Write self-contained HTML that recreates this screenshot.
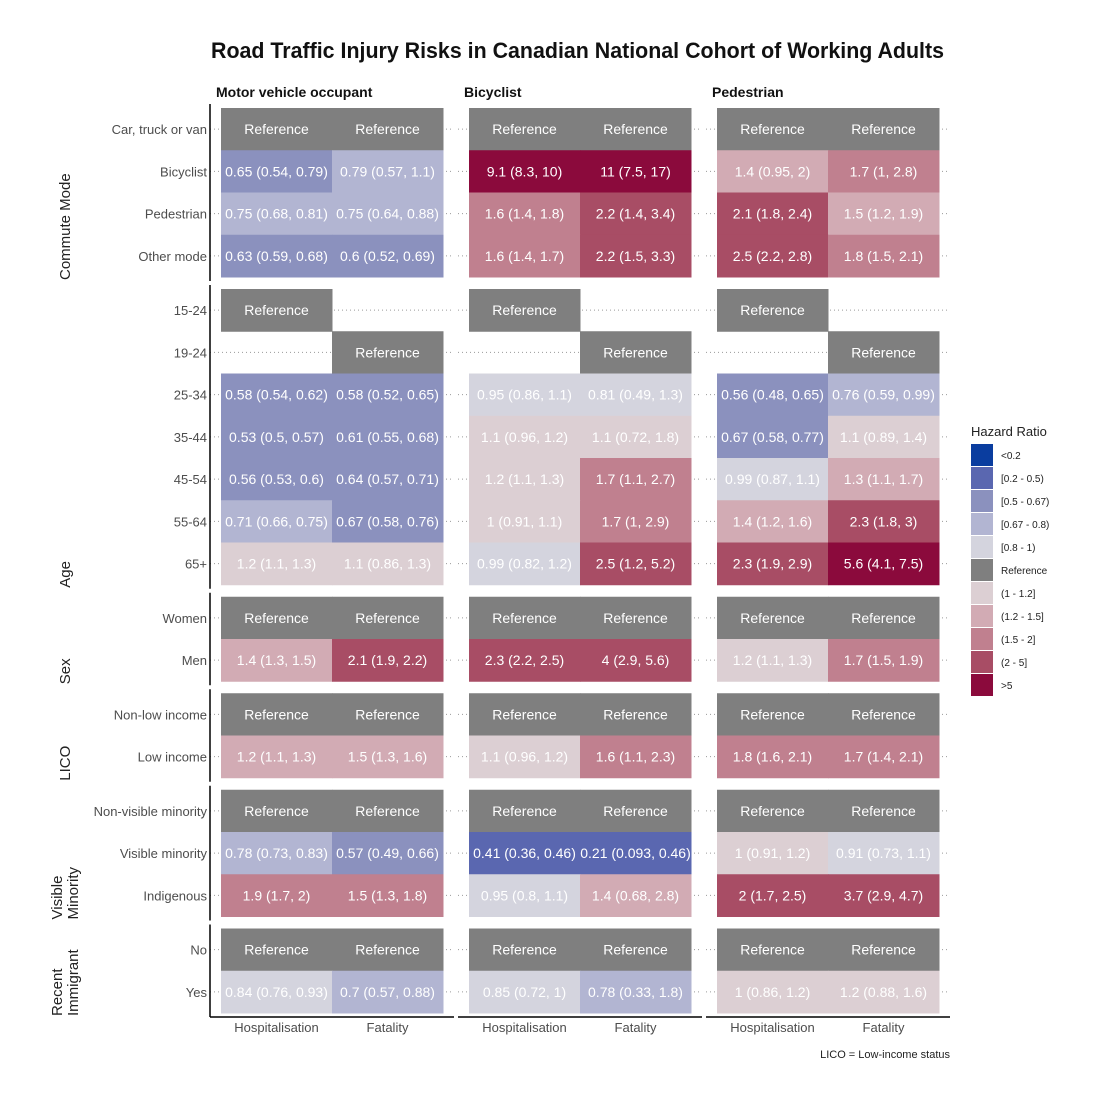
<!DOCTYPE html>
<html><head><meta charset="utf-8">
<style>
html,body{margin:0;padding:0;background:#fff;}
svg{display:block;font-family:"Liberation Sans",sans-serif;}
</style></head>
<body>
<svg id="chart" width="1100" height="1100" viewBox="0 0 1100 1100">
<text x="211" y="58" textLength="733" lengthAdjust="spacingAndGlyphs" font-size="22" font-weight="bold" fill="#111">Road Traffic Injury Risks in Canadian National Cohort of Working Adults</text>
<text x="216" y="97" font-size="14" font-weight="bold" fill="#111">Motor vehicle occupant</text>
<text x="464" y="97" font-size="14" font-weight="bold" fill="#111">Bicyclist</text>
<text x="712" y="97" font-size="14" font-weight="bold" fill="#111">Pedestrian</text>
<g id="grid"></g>
<g id="cells"></g>
<g id="axes"></g>
<g id="legend"></g>
<text x="950" y="1058" text-anchor="end" font-size="11" fill="#222">LICO = Low-income status</text>
</svg>
<script>
const facetNames = [["Commute Mode"],["Age"],["Sex"],["LICO"],["Visible","Minority"],["Recent","Immigrant"]];
const facetRows = [
  ["Car, truck or van","Bicyclist","Pedestrian","Other mode"],
  ["15-24","19-24","25-34","35-44","45-54","55-64","65+"],
  ["Women","Men"],
  ["Non-low income","Low income"],
  ["Non-visible minority","Visible minority","Indigenous"],
  ["No","Yes"]
];
const panels = ["Motor vehicle occupant","Bicyclist","Pedestrian"];
const outcomes = ["Hospitalisation","Fatality"];
const R = "Reference";
const labels = [
  [R,R,R,R,R,R],
  ["0.65 (0.54, 0.79)","0.79 (0.57, 1.1)","9.1 (8.3, 10)","11 (7.5, 17)","1.4 (0.95, 2)","1.7 (1, 2.8)"],
  ["0.75 (0.68, 0.81)","0.75 (0.64, 0.88)","1.6 (1.4, 1.8)","2.2 (1.4, 3.4)","2.1 (1.8, 2.4)","1.5 (1.2, 1.9)"],
  ["0.63 (0.59, 0.68)","0.6 (0.52, 0.69)","1.6 (1.4, 1.7)","2.2 (1.5, 3.3)","2.5 (2.2, 2.8)","1.8 (1.5, 2.1)"],
  [R,null,R,null,R,null],
  [null,R,null,R,null,R],
  ["0.58 (0.54, 0.62)","0.58 (0.52, 0.65)","0.95 (0.86, 1.1)","0.81 (0.49, 1.3)","0.56 (0.48, 0.65)","0.76 (0.59, 0.99)"],
  ["0.53 (0.5, 0.57)","0.61 (0.55, 0.68)","1.1 (0.96, 1.2)","1.1 (0.72, 1.8)","0.67 (0.58, 0.77)","1.1 (0.89, 1.4)"],
  ["0.56 (0.53, 0.6)","0.64 (0.57, 0.71)","1.2 (1.1, 1.3)","1.7 (1.1, 2.7)","0.99 (0.87, 1.1)","1.3 (1.1, 1.7)"],
  ["0.71 (0.66, 0.75)","0.67 (0.58, 0.76)","1 (0.91, 1.1)","1.7 (1, 2.9)","1.4 (1.2, 1.6)","2.3 (1.8, 3)"],
  ["1.2 (1.1, 1.3)","1.1 (0.86, 1.3)","0.99 (0.82, 1.2)","2.5 (1.2, 5.2)","2.3 (1.9, 2.9)","5.6 (4.1, 7.5)"],
  [R,R,R,R,R,R],
  ["1.4 (1.3, 1.5)","2.1 (1.9, 2.2)","2.3 (2.2, 2.5)","4 (2.9, 5.6)","1.2 (1.1, 1.3)","1.7 (1.5, 1.9)"],
  [R,R,R,R,R,R],
  ["1.2 (1.1, 1.3)","1.5 (1.3, 1.6)","1.1 (0.96, 1.2)","1.6 (1.1, 2.3)","1.8 (1.6, 2.1)","1.7 (1.4, 2.1)"],
  [R,R,R,R,R,R],
  ["0.78 (0.73, 0.83)","0.57 (0.49, 0.66)","0.41 (0.36, 0.46)","0.21 (0.093, 0.46)","1 (0.91, 1.2)","0.91 (0.73, 1.1)"],
  ["1.9 (1.7, 2)","1.5 (1.3, 1.8)","0.95 (0.8, 1.1)","1.4 (0.68, 2.8)","2 (1.7, 2.5)","3.7 (2.9, 4.7)"],
  [R,R,R,R,R,R],
  ["0.84 (0.76, 0.93)","0.7 (0.57, 0.88)","0.85 (0.72, 1)","0.78 (0.33, 1.8)","1 (0.86, 1.2)","1.2 (0.88, 1.6)"]
];
const hrValues = [
  [null,null,null,null,null,null],
  [0.65,0.79,9.1,11,1.4,1.7],
  [0.75,0.75,1.6,2.2,2.1,1.5],
  [0.63,0.6,1.6,2.2,2.5,1.8],
  [null,null,null,null,null,null],
  [null,null,null,null,null,null],
  [0.58,0.58,0.95,0.81,0.56,0.76],
  [0.53,0.61,1.1,1.1,0.665,1.1],
  [0.56,0.64,1.18,1.7,0.99,1.3],
  [0.71,0.665,1.02,1.7,1.4,2.3],
  [1.18,1.1,0.99,2.5,2.3,5.6],
  [null,null,null,null,null,null],
  [1.4,2.1,2.3,4,1.2,1.7],
  [null,null,null,null,null,null],
  [1.22,1.5,1.1,1.6,1.8,1.7],
  [null,null,null,null,null,null],
  [0.78,0.57,0.41,0.21,1.02,0.91],
  [1.9,1.52,0.95,1.4,2.02,3.7],
  [null,null,null,null,null,null],
  [0.84,0.7,0.85,0.78,1.02,1.18]
];
const legendLabels = ["<0.2","[0.2 - 0.5)","[0.5 - 0.67)","[0.67 - 0.8)","[0.8 - 1)","Reference","(1 - 1.2]","(1.2 - 1.5]","(1.5 - 2]","(2 - 5]",">5"];
const legendColors = ["#0a3d9f","#5a67b0","#8b91be","#b2b5d2","#d4d4de","#7f7f7f","#dccfd3","#d2abb4","#c0808f","#a84d65","#8b0a3c"];

function colorFor(lab, v){
  if (lab === R) return legendColors[5];
  if (v < 0.2) return legendColors[0];
  if (v < 0.5) return legendColors[1];
  if (v < 0.67) return legendColors[2];
  if (v < 0.8) return legendColors[3];
  if (v < 1) return legendColors[4];
  if (v <= 1.2) return legendColors[6];
  if (v <= 1.5) return legendColors[7];
  if (v <= 2) return legendColors[8];
  if (v <= 5) return legendColors[9];
  return legendColors[10];
}
const NS = "http://www.w3.org/2000/svg";
function mk(tag, attrs, parent){
  const e = document.createElementNS(NS, tag);
  for (const k in attrs) e.setAttribute(k, attrs[k]);
  parent.appendChild(e); return e;
}
const gGrid = document.getElementById("grid");
const gCells = document.getElementById("cells");
const gAxes = document.getElementById("axes");
const gLeg = document.getElementById("legend");

const rowH = 42.25, facetGap = 12, top0 = 108, pad = 4;
const panelX = [210, 458, 706], panelW = 244, cellInset = 11, cellW = 111;
function colX(c){ return panelX[Math.floor(c/2)] + cellInset + (c%2)*cellW; }

let y0 = top0, rowIdx = 0;
facetRows.forEach((rows, f) => {
  const fTop = y0, fBot = y0 + rows.length*rowH;
  const ax = mk("line",{x1:210,x2:210,y1:fTop-pad,y2:fBot+pad,stroke:"#000","stroke-width":1.5},gAxes);
  
  
  const names = facetNames[f];
  names.forEach((nm, i) => {
    const bx = names.length === 1 ? 70 : 62 + i*16;
    const t = mk("text",{x:0,y:0,transform:`translate(${bx},${fBot+pad-1}) rotate(-90)`,"font-size":15,fill:"#222"},gAxes);
    t.textContent = nm;
    
    
  });
  rows.forEach((rn, r) => {
    const cy = y0 + r*rowH + rowH/2;
    panelX.forEach(px => {
      const gl = mk("line",{x1:px,x2:px+panelW,y1:cy,y2:cy,stroke:"#9a9a9a","stroke-width":1,"stroke-dasharray":"1,3"},gGrid);
      
      
    });
    const tl = mk("text",{x:207,y:cy+5,"text-anchor":"end","font-size":13,fill:"#4d4d4d"},gAxes);
    tl.textContent = rn;
    
    
    labels[rowIdx].forEach((lab, c) => {
      if (lab === null) return;
      const x = colX(c), y = y0 + r*rowH;
      const rect = mk("rect",{x:x,y:y,width:cellW+0.5,height:rowH+0.5,fill:colorFor(lab, hrValues[rowIdx][c])},gCells);
      
      
      const tx = mk("text",{x:x+cellW/2,y:cy+5,"text-anchor":"middle","font-size":14,fill:"#fff"},gCells);
      tx.textContent = lab;
      
      
    });
    rowIdx++;
  });
  y0 = fBot + facetGap;
});
const bottomY = y0 - facetGap + pad;
panelX.forEach((px, p) => {
  const bl = mk("line",{x1:px,x2:px+panelW,y1:bottomY,y2:bottomY,stroke:"#000","stroke-width":1.5},gAxes);
  
  
  outcomes.forEach((o, i) => {
    const t = mk("text",{x:px+cellInset+i*cellW+cellW/2,y:bottomY+15,"text-anchor":"middle","font-size":13,fill:"#4d4d4d"},gAxes);
    t.textContent = o;
    
    
  });
});
const lt = mk("text",{x:971,y:436,"font-size":13,fill:"#222"},gLeg);
lt.textContent = "Hazard Ratio";


legendLabels.forEach((l, i) => {
  const y = 444 + i*23;
  const r = mk("rect",{x:971,y:y,width:22,height:22,fill:legendColors[i]},gLeg);
  
  
  const t = mk("text",{x:1001,y:y+15,"font-size":10,fill:"#222"},gLeg);
  t.textContent = l;
  
  
});
</script>
</body></html>
